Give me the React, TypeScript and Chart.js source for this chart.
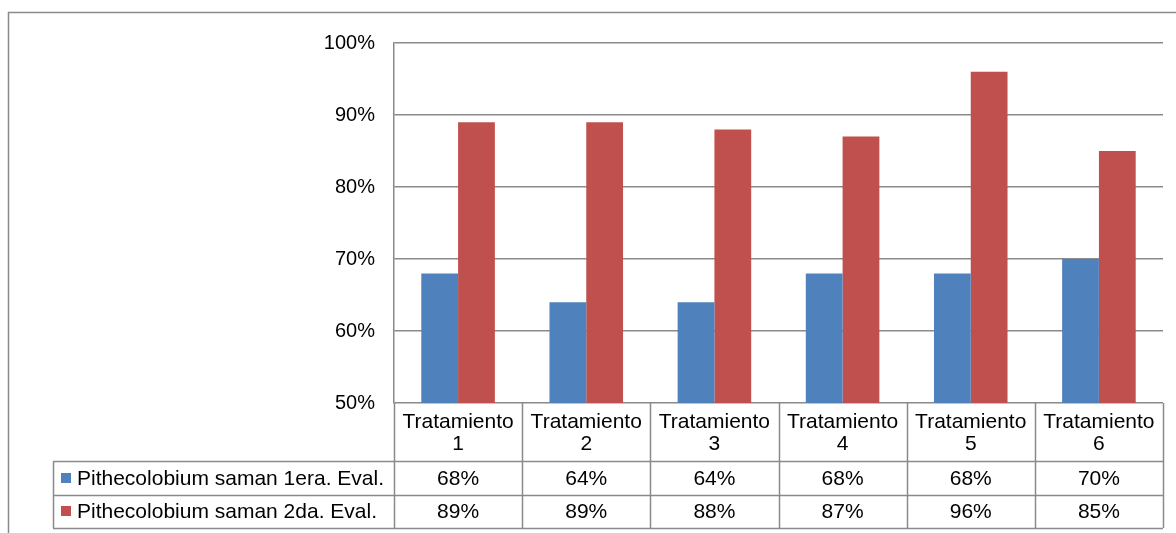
import React, { useEffect, useRef } from "react";
import { Chart, registerables } from "chart.js";

Chart.register(...registerables);

const categories = ["Tratamiento 1", "Tratamiento 2", "Tratamiento 3", "Tratamiento 4", "Tratamiento 5", "Tratamiento 6"];
const seriesNames = ["Pithecolobium saman 1era. Eval.", "Pithecolobium saman 2da. Eval."];
const firstEval = [0.68, 0.64, 0.64, 0.68, 0.68, 0.7];
const secondEval = [0.89, 0.89, 0.88, 0.87, 0.96, 0.85];
const seriesColors = ["#4F81BD", "#C0504D"];
const yTicks = [0.5, 0.6, 0.7, 0.8, 0.9, 1.0];

const W = 1176;
const H = 533;
const FONT = '"Liberation Sans", Arial, sans-serif';
const LINE = "#8a8a8a";

const pct = (v: number) => `${Math.round(v * 100)}%`;

// Draws the outer frame and the data table beneath the plot.
const dataTablePlugin = {
  id: "dataTable",
  afterDraw(chart: any) {
    const ctx = chart.ctx as CanvasRenderingContext2D;
    const area = chart.chartArea;
    const xs = chart.scales.x;
    const n = categories.length;
    const colW = (area.right - area.left) / n;
    const headerBottom = area.bottom + 58;
    const rowH = 33.5;
    const legendLeft = 53;
    const tableBottom = headerBottom + rowH * seriesNames.length;

    ctx.save();
    ctx.strokeStyle = LINE;
    ctx.lineWidth = 1.5;

    // outer frame
    ctx.beginPath();
    ctx.moveTo(8.5, H + 5);
    ctx.lineTo(8.5, 12.5);
    ctx.lineTo(W + 5, 12.5);
    ctx.stroke();

    // vertical lines through the header and rows
    ctx.beginPath();
    for (let i = 0; i <= n; i++) {
      const x = Math.round(area.left + i * colW) + 0.5;
      ctx.moveTo(x, area.bottom);
      ctx.lineTo(x, tableBottom);
    }
    ctx.moveTo(legendLeft + 0.5, headerBottom);
    ctx.lineTo(legendLeft + 0.5, tableBottom);
    // horizontal row lines
    for (let r = 0; r <= seriesNames.length; r++) {
      const y = Math.round(headerBottom + r * rowH) + 0.5;
      ctx.moveTo(legendLeft, y);
      ctx.lineTo(area.right, y);
    }
    ctx.stroke();

    ctx.fillStyle = "#000";
    ctx.font = `21px ${FONT}`;
    ctx.textAlign = "center";
    ctx.textBaseline = "middle";

    // category headers, two lines each
    categories.forEach((c, i) => {
      const cx = xs.getPixelForValue(i);
      const parts = c.split(" ");
      ctx.fillText(parts[0], cx, area.bottom + 19);
      ctx.fillText(parts[1], cx, area.bottom + 41.5);
    });

    // value rows with legend keys
    const rows = [firstEval, secondEval];
    rows.forEach((vals, r) => {
      const cy = headerBottom + r * rowH + rowH / 2;
      ctx.fillStyle = seriesColors[r];
      ctx.fillRect(61, Math.round(cy - 5), 10, 10);
      ctx.fillStyle = "#000";
      ctx.textAlign = "left";
      ctx.fillText(seriesNames[r], 77, cy + 1);
      ctx.textAlign = "center";
      vals.forEach((v, i) => {
        ctx.fillText(pct(v), xs.getPixelForValue(i), cy + 1);
      });
    });
    ctx.restore();
  },
};

export default function App() {
  const ref = useRef<HTMLCanvasElement | null>(null);

  useEffect(() => {
    if (!ref.current) return;
    const chart = new Chart(ref.current, {
      type: "bar",
      data: {
        labels: categories,
        datasets: [
          { label: seriesNames[0], data: firstEval, backgroundColor: seriesColors[0] },
          { label: seriesNames[1], data: secondEval, backgroundColor: seriesColors[1] },
        ],
      },
      options: {
        responsive: false,
        animation: false,
        devicePixelRatio: 1,
        layout: { padding: { left: 0, top: 43, right: 13, bottom: 130 } },
        datasets: { bar: { categoryPercentage: 0.574, barPercentage: 1 } },
        plugins: { legend: { display: false }, tooltip: { enabled: false } },
        scales: {
          x: { display: false },
          y: {
            min: 0.5,
            max: 1.0,
            afterFit: (s: any) => {
              s.width = 394;
            },
            afterBuildTicks: (s: any) => {
              s.ticks = yTicks.map((v) => ({ value: v }));
            },
            grid: { color: LINE, lineWidth: 1.5, drawTicks: false },
            border: { display: true, color: LINE, width: 1.5 },
            ticks: {
              padding: 19,
              color: "#000",
              font: { family: FONT, size: 20 },
              callback: (v: any) => pct(Number(v)),
            },
          },
        },
      },
      plugins: [dataTablePlugin],
    });
    return () => chart.destroy();
  }, []);

  return (
    <div style={{ position: "fixed", left: 0, top: 0, width: W, height: H, background: "#fff" }}>
      <canvas ref={ref} width={W} height={H} style={{ display: "block" }} />
    </div>
  );
}
